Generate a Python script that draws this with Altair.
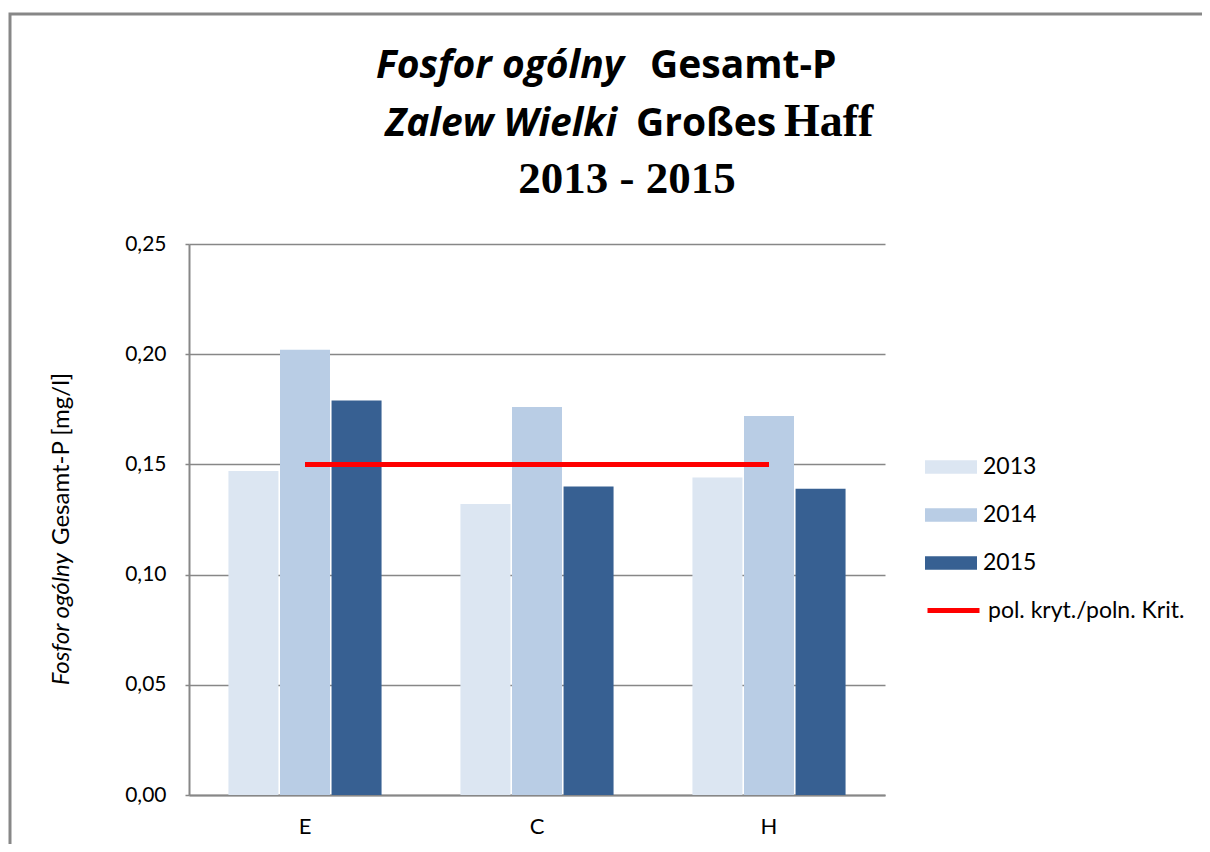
import altair as alt
import pandas as pd

stations = ["E", "C", "H"]
years = ["2013", "2014", "2015"]
v2013 = [0.147, 0.132, 0.144]
v2014 = [0.202, 0.176, 0.172]
v2015 = [0.179, 0.140, 0.139]
crit_value = 0.15
crit_label = "pol. kryt./poln. Krit."
y_ticks = [0.0, 0.05, 0.10, 0.15, 0.20, 0.25]
bar_colors = ["#DCE6F2", "#B9CDE5", "#376092"]

rows = []
for yr, vals in zip(years, [v2013, v2014, v2015]):
    for st, v in zip(stations, vals):
        rows.append({"station": st, "year": yr, "value": v})
bars_df = pd.DataFrame(rows)
crit_df = pd.DataFrame({"station": ["E", "H"], "value": [crit_value, crit_value],
                        "label": [crit_label, crit_label]})
dummy = pd.DataFrame({"a": [0]})

SANS = "Lato"
TSANS = "Open Sans"
SERIF = "Liberation Serif"
GRAY = "#878787"

xscale = alt.Scale(domain=stations, paddingInner=0.34, paddingOuter=0.17)
yscale = alt.Scale(domain=[0, 0.25], nice=False, zero=True)

bars = alt.Chart(bars_df).mark_bar().encode(
    x=alt.X("station:N", sort=stations, scale=xscale,
            axis=alt.Axis(title=None, labelAngle=0, ticks=False, labelPadding=21,
                          labelFontSize=22, labelFont=SANS, labelColor="#000000",
                          domainColor=GRAY, domainWidth=2, grid=False)),
    xOffset=alt.XOffset("year:N", sort=years, scale=alt.Scale(paddingInner=0.03)),
    y=alt.Y("value:Q", scale=yscale,
            axis=alt.Axis(title=None, values=y_ticks,
                          labelExpr="replace(format(datum.value, '.2f'), '.', ',')",
                          tickSize=4, tickColor=GRAY, tickWidth=1.5, labelPadding=19,
                          labelFontSize=21, labelFont=SANS, labelColor="#000000",
                          domainColor=GRAY, domainWidth=2,
                          grid=True, gridColor=GRAY, gridWidth=1.5)),
    color=alt.Color("year:N", sort=years,
                    scale=alt.Scale(domain=years, range=bar_colors),
                    legend=alt.Legend(title=None, orient="none", legendX=736, legendY=197,
                                      symbolType="M-1,-0.26L1,-0.26L1,0.26L-1,0.26Z",
                                      symbolSize=2704, symbolStrokeWidth=0,
                                      labelFontSize=23, labelFont=SANS, labelColor="#000000",
                                      rowPadding=10, labelOffset=6, labelLimit=400)),
)

line = alt.Chart(crit_df).mark_line(strokeWidth=5).encode(
    x=alt.X("station:N", sort=stations, scale=xscale),
    y=alt.Y("value:Q", scale=yscale),
    color=alt.Color("label:N", scale=alt.Scale(domain=[crit_label], range=["#FF0000"]),
                    legend=alt.Legend(title=None, orient="none", legendX=736, legendY=338,
                                      symbolType="stroke", symbolSize=2704,
                                      symbolStrokeWidth=5,
                                      labelFontSize=23, labelFont=SANS, labelColor="#000000",
                                      labelOffset=6, labelLimit=400)),
)

OX, OY = 189, 244  # plot origin on page (for decoration placement)

def txt(s, x, y, font, size, italic=False, align="left"):
    kw = dict(text=s, font=font, fontSize=size, fontWeight="bold",
              align=align, baseline="alphabetic", color="#000000")
    if italic:
        kw["fontStyle"] = "italic"
    return alt.Chart(dummy).mark_text(**kw).encode(x=alt.value(x - OX), y=alt.value(y - OY))

frame = alt.Chart(dummy).mark_rect(fill=None, stroke=GRAY, strokeWidth=3).encode(
    x=alt.value(10 - OX), x2=alt.value(1400 - OX), y=alt.value(14 - OY), y2=alt.value(1000 - OY))

titles = [
    txt("Fosfor ogólny", 624, 78, TSANS, 39, italic=True, align="right"),
    txt("Gesamt-P", 650, 78, TSANS, 39, align="left"),
    txt("Zalew Wielki", 617, 136, TSANS, 39, italic=True, align="right"),
    txt("Großes", 636, 136, TSANS, 39, align="left"),
    txt("Haff", 784, 136, SERIF, 46, align="left"),
    txt("2013 - 2015", 627, 193, SERIF, 45, align="center"),
]
ytitle = [
    alt.Chart(dummy).mark_text(text="Fosfor ogólny", font=SANS, fontSize=24, fontStyle="italic",
                               align="right", baseline="middle", angle=270, color="#000000")
    .encode(x=alt.value(62 - OX), y=alt.value(553 - OY)),
    alt.Chart(dummy).mark_text(text="Gesamt-P [mg/l]", font=SANS, fontSize=24,
                               align="left", baseline="middle", angle=270, color="#000000")
    .encode(x=alt.value(62 - OX), y=alt.value(545 - OY)),
]

chart = alt.layer(bars, line, frame, *titles, *ytitle).resolve_scale(
    color="independent"
).properties(
    width=696, height=551,
    autosize=alt.AutoSizeParams(type="none"),
    padding={"left": 181, "top": 236, "right": 317, "bottom": 49},
    background="white",
).configure_view(stroke=None)

chart.save("out.html", embed_options={"renderer": "svg", "actions": False})
